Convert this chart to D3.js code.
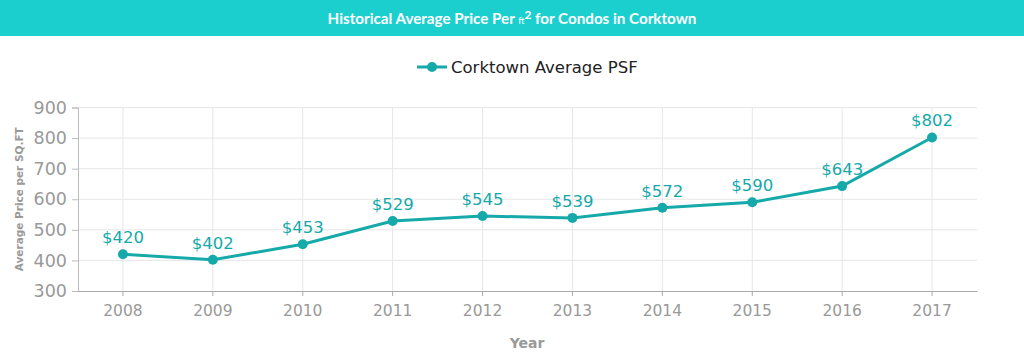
<!DOCTYPE html>
<html><head><meta charset="utf-8">
<script src="https://cdn.jsdelivr.net/npm/d3@7"></script>
<style>
body{margin:0;background:#fff;}
svg{display:block;}
</style></head>
<body>
<svg id="chart" width="1024" height="360"></svg>
<script>
const years = ["2008","2009","2010","2011","2012","2013","2014","2015","2016","2017"];
const values = [420,402,453,529,545,539,572,590,643,802];
const yTicks = [300,400,500,600,700,800,900];
const seriesName = "Corktown Average PSF";

(function(){
const svg = d3.select("#chart");
const W = 1024, H = 360;
const teal = "#15a9a9";
const pLeft = 78, pRight = 977, pTop = 107.5, pBottom = 291;

// banner
svg.append("rect").attr("x",0).attr("y",0).attr("width",W).attr("height",36).attr("fill","#1bcfcf");
const title = svg.append("text").attr("x",512).attr("y",23.5).attr("text-anchor","middle")
  .attr("fill","#fff").attr("font-family","Lato, sans-serif").attr("font-weight","bold").attr("font-size",15.2);
title.append("tspan").text("Historical Average Price Per ");
title.append("tspan").attr("font-size",9).attr("font-weight","normal").text("ft");
title.append("tspan").attr("font-size",12).attr("dy",-5).text("2");
title.append("tspan").attr("dy",5).text(" for Condos in Corktown");

const x = d3.scaleBand().domain(years).range([pLeft,pRight]);
const y = d3.scaleLinear().domain([300,900]).range([pBottom,pTop]);
const cx = d => x(d) + x.bandwidth()/2;

// grid
svg.append("g").selectAll("line").data(yTicks.slice(1)).join("line")
  .attr("x1",pLeft).attr("x2",pRight).attr("y1",d=>y(d)).attr("y2",d=>y(d))
  .attr("stroke","#e6e6e6").attr("stroke-width",1);
svg.append("g").selectAll("line").data(years).join("line")
  .attr("x1",cx).attr("x2",cx).attr("y1",pTop).attr("y2",pBottom)
  .attr("stroke","#e6e6e6").attr("stroke-width",1);

// axes
const yAxis = svg.append("g").attr("transform",`translate(${pLeft},0)`)
  .call(d3.axisLeft(y).tickValues(yTicks).tickSize(6).tickPadding(5));
yAxis.select(".domain").attr("stroke","#bbb");
yAxis.selectAll(".tick line").attr("stroke","#bbb");
yAxis.selectAll("text").attr("fill","#999").attr("font-family","'DejaVu Sans', Verdana, sans-serif").attr("font-size",17.5);

const xAxis = svg.append("g").attr("transform",`translate(0,${pBottom})`)
  .call(d3.axisBottom(x).tickSize(5).tickPadding(9).tickSizeOuter(0));
xAxis.select(".domain").attr("stroke","#aaa");
xAxis.selectAll(".tick line").attr("stroke","#aaa");
xAxis.selectAll("text").attr("fill","#999").attr("font-family","'DejaVu Sans', Verdana, sans-serif").attr("font-size",15.5);

svg.append("text").attr("x",527).attr("y",348).attr("text-anchor","middle")
  .attr("fill","#999").attr("font-family","'DejaVu Sans', Verdana, sans-serif").attr("font-weight","bold").attr("font-size",14).text("Year");
svg.append("text").attr("transform",`translate(23,${(pTop+pBottom)/2}) rotate(-90)`).attr("text-anchor","middle")
  .attr("fill","#999").attr("font-family","'DejaVu Sans', Verdana, sans-serif").attr("font-weight","bold").attr("font-size",10.5).text("Average Price per SQ.FT");

// line
const data = years.map((yr,i)=>({yr, v: values[i]}));
svg.append("path").datum(data)
  .attr("d", d3.line().x(d=>cx(d.yr)).y(d=>y(d.v)))
  .attr("fill","none").attr("stroke",teal).attr("stroke-width",3);
svg.append("g").selectAll("circle").data(data).join("circle")
  .attr("cx",d=>cx(d.yr)).attr("cy",d=>y(d.v)).attr("r",5).attr("fill",teal);
svg.append("g").selectAll("text").data(data).join("text")
  .attr("x",d=>cx(d.yr)).attr("y",d=>y(d.v)-11).attr("text-anchor","middle")
  .attr("fill",teal).attr("font-family","'DejaVu Sans', Verdana, sans-serif").attr("font-size",16.5)
  .text(d=>"$"+d.v);

// legend
svg.append("line").attr("x1",417).attr("x2",447).attr("y1",67).attr("y2",67).attr("stroke",teal).attr("stroke-width",3);
svg.append("circle").attr("cx",432).attr("cy",67).attr("r",5).attr("fill",teal);
svg.append("text").attr("x",451).attr("y",73).attr("fill","#222")
  .attr("font-family","'DejaVu Sans', Verdana, sans-serif").attr("font-size",16.5).text(seriesName);
})();
</script>
</body></html>
